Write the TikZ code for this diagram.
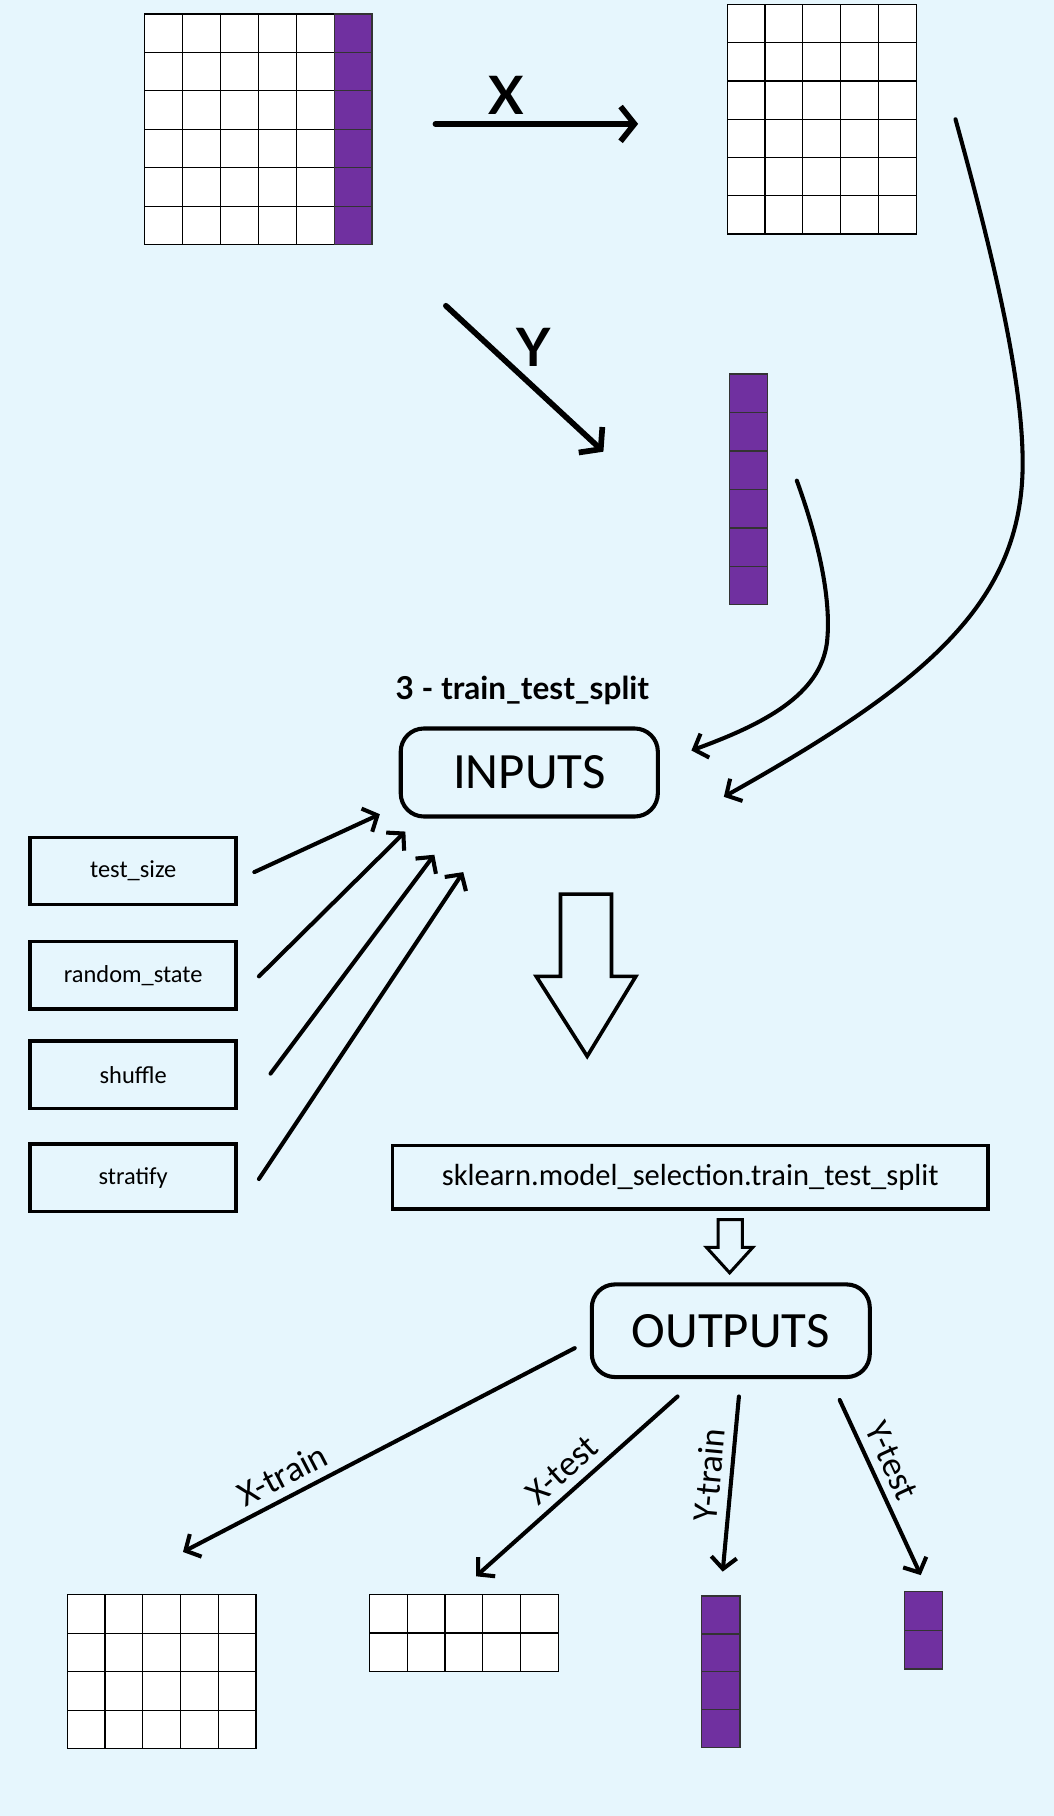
\documentclass[tikz,border=0pt]{standalone}
\usepackage{fontspec}
\setmainfont{Carlito}
\newfontfamily\headfont{Lato}
\usetikzlibrary{arrows.meta,calc}

\definecolor{bgblue}{RGB}{230,246,253}
\definecolor{colpurple}{RGB}{112,48,160}

\tikzset{
	cell/.style={draw=black, fill=white, line width=0.6pt},
	ycell/.style={draw=black!80, fill=colpurple, line width=0.6pt},
	param/.style={draw, line width=1.8pt, minimum width=3.56cm, minimum height=1.16cm, font=\fontsize{12}{14}\selectfont},
	stage/.style={draw, line width=2pt, rounded corners=0.4cm, font=\fontsize{25}{30}\selectfont},
	link/.style={line width=2pt, line cap=round, -{Straight Barb[length=2mm,width=4.4mm]}},
	boldlink/.style={line width=2.8pt, line cap=round, -{Straight Barb[length=2.4mm,width=6mm]}},
	hollow/.style={line width=1.8pt, fill=bgblue, line join=miter},
	headlbl/.style={font=\headfont\bfseries\fontsize{26}{30}\selectfont},
	tag/.style={font=\fontsize{17.5}{20}\selectfont, sloped, above, inner sep=4pt},
}

\begin{document}
\begin{tikzpicture}[x=0.2mm,y=-0.2mm]
		\fill[bgblue] (0,0) rectangle (910,1568);
		\useasboundingbox (0,0) rectangle (910,1568);
		% data table and its split
		\foreach \c in {0,...,4} \foreach \r in {0,...,5}
			\draw[cell] ({125+\c*32.7},{12+\r*33.2}) rectangle ++(32.7,33.2);
		\foreach \r in {0,...,5}
			\draw[ycell] ({125+5*32.7},{12+\r*33.2}) rectangle ++(32.7,33.2);
		\foreach \c in {0,...,4} \foreach \r in {0,...,5}
			\draw[cell] ({628+\c*32.6},{4+\r*33}) rectangle ++(32.6,33);
		\foreach \r in {0,...,5}
			\draw[ycell] (630,{323+\r*33.2}) rectangle ++(33,33.2);
		\coordinate (xfrom) at (376,107);
		\coordinate (xto) at (551,107);
		\coordinate (yfrom) at (385,264);
		\coordinate (yto) at (521,390);
		\draw[boldlink] (xfrom) -- (xto);
		\draw[boldlink] (yfrom) -- (yto);
		\node[headlbl] (xlbl) at (437,82) {X};
		\node[headlbl] (ylbl) at (461,300) {Y};
		% inputs
		\node[headlbl, font=\headfont\bfseries\fontsize{15.5}{18}\selectfont] (title) at (451,596) {3 - train\_test\_split};
		\node[stage, minimum width=4.44cm, minimum height=1.52cm] (inputs) at (457,667) {INPUTS};
		\node[param] (ts) at (115,752) {test\_size};
		\node[param] (rs) at (115,842) {random\_state};
		\node[param] (sh) at (115,928) {shuffle};
		\node[param] (st) at (115,1017) {stratify};
		\coordinate (xcurve) at (825,103);
		\coordinate (ycurve) at (688,415);
		\coordinate (inA) at (597,648);
		\coordinate (inB) at (625,688);
		\draw[link] (xcurve) .. controls (860,230) and (883,330) .. (883,400)
			.. controls (883,520) and (800,590) .. (inB);
		\draw[link] (ycurve) .. controls (708,470) and (718,520) .. (714,555)
			.. controls (708,600) and (660,625) .. (inA);
		\coordinate (in1) at (328,703);
		\coordinate (in2) at (350,718);
		\coordinate (in3) at (375,738);
		\coordinate (in4) at (400,753);
		\draw[link] ($(ts.east)+(14,1)$) -- (in1);
		\draw[link] ($(rs.east)+(18,1)$) -- (in2);
		\draw[link] ($(sh.east)+(28,-1)$) -- (in3);
		\draw[link] ($(st.east)+(18,1)$) -- (in4);
		% function and outputs
		\draw[hollow] (484,772) -- (528,772) -- (528,843) -- (549,843) -- (507,912) -- (463,843) -- (484,843) -- cycle;
		\node[param, minimum width=10.28cm, minimum height=1.1cm, font=\fontsize{15}{18}\selectfont] (sk) at (596,1016.5) {sklearn.model\_selection.train\_test\_split};
		\draw[hollow, line width=1.5pt] (620,1053) -- (641,1053) -- (641,1077) -- (650,1077) -- (630,1099) -- (610,1077) -- (620,1077) -- cycle;
		\node[stage, minimum width=4.8cm, minimum height=1.6cm] (outputs) at (631,1149) {OUTPUTS};
		\coordinate (xtr) at (158,1340);
		\coordinate (xte) at (411,1361);
		\coordinate (ytr) at (624,1357);
		\coordinate (yte) at (795,1360);
		\draw[link] ($(outputs.west)+(-13,15)$) -- (xtr) node[tag, pos=0.72] (xtrlbl) {X-train};
		\draw[link] ($(outputs.south)+(-46,15)$) -- (xte) node[tag, pos=0.5] (xtelbl) {X-test};
		\draw[link] ($(outputs.south)+(7,15)$) -- (ytr) node[tag, pos=0.46] (ytrlbl) {Y-train};
		\draw[link] ($(outputs.south)+(94,18)$) -- (yte) node[tag, pos=0.4] (ytelbl) {Y-test};
		\foreach \c in {0,...,4} \foreach \r in {0,...,3}
			\draw[cell] ({58+\c*32.6},{1377+\r*33.25}) rectangle ++(32.6,33.25);
		\foreach \c in {0,...,4} \foreach \r in {0,...,1}
			\draw[cell] ({319+\c*32.6},{1377+\r*33}) rectangle ++(32.6,33);
		\foreach \r in {0,...,3}
			\draw[ycell] (606,{1378+\r*32.75}) rectangle ++(33,32.75);
		\foreach \r in {0,...,1}
			\draw[ycell] (781,{1374+\r*33.5}) rectangle ++(33,33.5);
\end{tikzpicture}
\end{document}
